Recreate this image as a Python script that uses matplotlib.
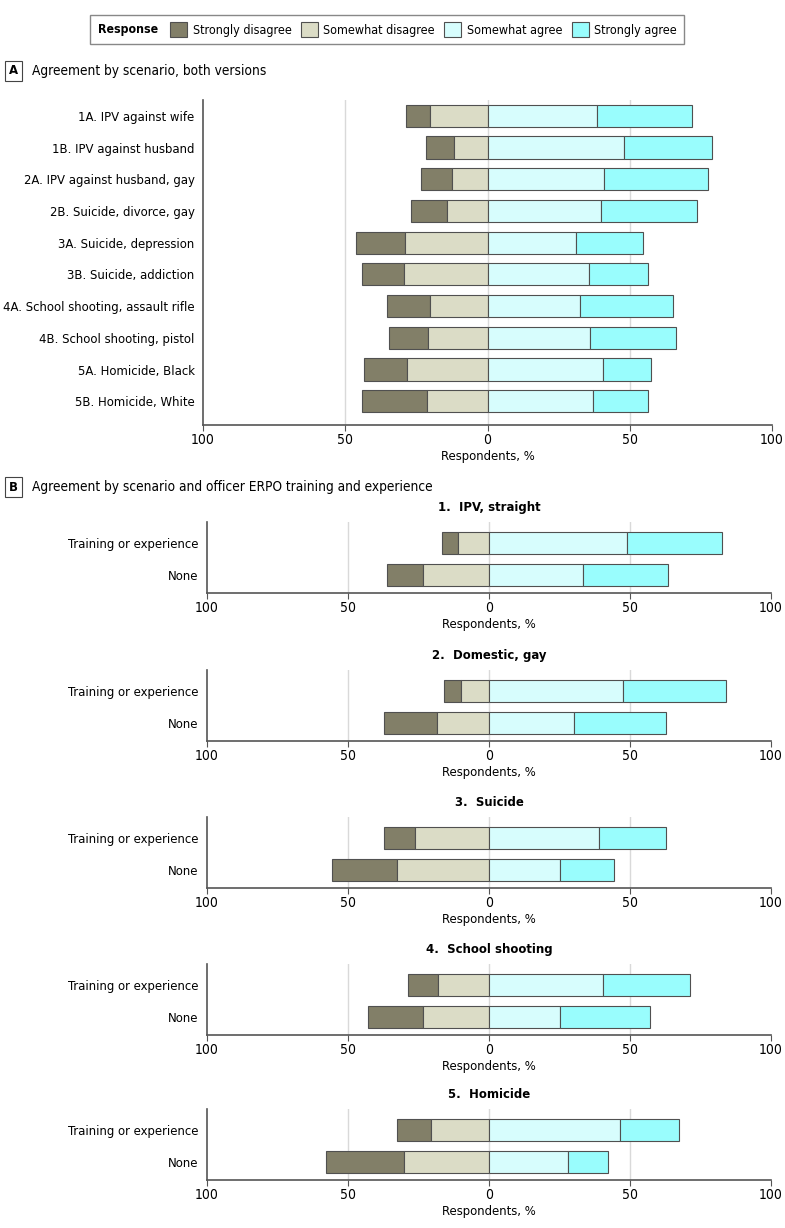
import matplotlib
matplotlib.use("Agg")
import matplotlib.pyplot as plt
from matplotlib import font_manager
from matplotlib.patches import Patch, Rectangle
from matplotlib.ticker import FuncFormatter

# pick a narrow font if one is installed
narrow = None
for f in font_manager.fontManager.ttflist:
    fn = f.fname.lower()
    if ('condensed' in fn or 'narrow' in fn) and 'bold' not in fn and 'italic' not in fn \
            and 'oblique' not in fn and 'mono' not in fn:
        narrow = f
        break
if narrow is not None:
    plt.rcParams['font.family'] = [narrow.name, 'DejaVu Sans']
    plt.rcParams['font.stretch'] = narrow.stretch
    FS = 9.4
else:
    plt.rcParams['font.family'] = ['Roboto', 'DejaVu Sans']
    FS = 9.0
plt.rcParams['font.size'] = FS

responses = ['Strongly disagree', 'Somewhat disagree', 'Somewhat agree', 'Strongly agree']
colors = ['#827f68', '#dbdcc6', '#d7fdfd', '#99fdfd']
edge = '#505050'

# panel A
scenarios = ['1A. IPV against wife', '1B. IPV against husband',
             '2A. IPV against husband, gay', '2B. Suicide, divorce, gay',
             '3A. Suicide, depression', '3B. Suicide, addiction',
             '4A. School shooting, assault rifle', '4B. School shooting, pistol',
             '5A. Homicide, Black', '5B. Homicide, White']
a_strong_dis = [8.4, 9.7, 10.7, 12.4, 17.1, 15.0, 15.0, 13.7, 15.0, 22.9]
a_some_dis = [20.3, 11.8, 12.5, 14.4, 29.0, 29.2, 20.2, 20.8, 28.3, 21.3]
a_some_agr = [38.4, 48.0, 41.1, 39.9, 31.2, 35.7, 32.4, 35.9, 40.5, 37.1]
a_strong_agr = [33.4, 31.0, 36.4, 33.8, 23.4, 20.6, 32.9, 30.3, 16.9, 19.2]

# panel B
b_titles = ['1.  IPV, straight', '2.  Domestic, gay', '3.  Suicide',
            '4.  School shooting', '5.  Homicide']
groups = ['Training or experience', 'None']
b_strong_dis = [[5.8, 12.8], [6.1, 18.6], [11.0, 22.8], [10.6, 19.6], [12.2, 27.7]]
b_some_dis = [[11.0, 23.3], [9.9, 18.6], [26.3, 32.8], [18.0, 23.3], [20.5, 30.1]]
b_some_agr = [[49.1, 33.4], [47.5, 30.1], [39.1, 25.1], [40.3, 25.2], [46.4, 28.1]]
b_strong_agr = [[33.7, 30.2], [36.5, 32.7], [23.6, 19.3], [31.1, 31.9], [21.0, 14.1]]


def diverging(ax, labels, sd, swd, sa, sta, height):
    y = list(range(len(labels)))
    ax.barh(y, sd, left=[-(a + b) for a, b in zip(sd, swd)], height=height,
            color=colors[0], edgecolor=edge, linewidth=0.8, zorder=3)
    ax.barh(y, swd, left=[-b for b in swd], height=height,
            color=colors[1], edgecolor=edge, linewidth=0.8, zorder=3)
    ax.barh(y, sa, left=0, height=height,
            color=colors[2], edgecolor=edge, linewidth=0.8, zorder=3)
    ax.barh(y, sta, left=sa, height=height,
            color=colors[3], edgecolor=edge, linewidth=0.8, zorder=3)
    ax.set_yticks(y)
    ax.set_yticklabels(labels)
    ax.set_xlim(-100, 100)
    ax.set_xticks([-100, -50, 0, 50, 100])
    ax.xaxis.set_major_formatter(FuncFormatter(lambda v, p: '%d' % abs(v)))
    for g in (-50, 0, 50):
        ax.axvline(g, color='#d9d9d9', lw=1, zorder=1)
    for s in ('top', 'right'):
        ax.spines[s].set_visible(False)
    for s in ('left', 'bottom'):
        ax.spines[s].set_color('#555555')
        ax.spines[s].set_linewidth(1.2)
    ax.tick_params(axis='y', length=0, pad=6, labelsize=FS)
    ax.tick_params(axis='x', length=4, color='#555555', labelsize=FS + 0.6, pad=2)
    ax.set_xlabel('Respondents, %', fontsize=FS, labelpad=2)


W, H = 785, 1228
fig = plt.figure(figsize=(W / 100, H / 100), dpi=100)


def box(px_left, px_top, px_right, px_bottom):
    return [px_left / W, 1 - px_bottom / H, (px_right - px_left) / W,
            (px_bottom - px_top) / H]


# legend
resp = fig.text(98 / W, 1 - 29.5 / H, 'Response', fontweight='bold',
                va='center', ha='left', fontsize=FS - 0.6)
handles = [Patch(facecolor=c, edgecolor=edge, linewidth=0.8) for c in colors]
fig.canvas.draw()
rb = resp.get_window_extent().transformed(fig.transFigure.inverted())
leg = fig.legend(handles, responses, ncol=4, frameon=False, loc='center left',
                 bbox_to_anchor=(rb.x1 + 12 / W, 1 - 29.5 / H), handlelength=1.35,
                 handleheight=1.4, handletextpad=0.45, columnspacing=0.75,
                 fontsize=FS - 0.4, borderaxespad=0, borderpad=0)
fig.canvas.draw()
lb = leg.get_window_extent().transformed(fig.transFigure.inverted())
fig.patches.append(Rectangle((90 / W, 1 - 44 / H), lb.x1 + 7 / W - 90 / W, 29 / H,
                             transform=fig.transFigure, fill=False,
                             edgecolor='#888888', lw=1))

# panel A
fig.text(13.5 / W, 1 - 71 / H, 'A', fontweight='bold', ha='center', va='center',
         fontsize=FS,
         bbox=dict(boxstyle='square,pad=0.3', fc='white', ec='#444444', lw=0.8))
fig.text(32 / W, 1 - 71 / H, 'Agreement by scenario, both versions',
         ha='left', va='center', fontsize=FS + 0.4)
axA = fig.add_axes(box(203, 100, 772, 425))
diverging(axA, scenarios, a_strong_dis, a_some_dis, a_some_agr, a_strong_agr, 0.7)
axA.set_ylim(9.75, -0.5)

# panel B
fig.text(13.5 / W, 1 - 487 / H, 'B', fontweight='bold', ha='center', va='center',
         fontsize=FS,
         bbox=dict(boxstyle='square,pad=0.3', fc='white', ec='#444444', lw=0.8))
fig.text(32 / W, 1 - 487 / H,
         'Agreement by scenario and officer ERPO training and experience',
         ha='left', va='center', fontsize=FS + 0.4)
bottoms = [593, 741, 888, 1035, 1180]
for i, title in enumerate(b_titles):
    ax = fig.add_axes(box(207, bottoms[i] - 71, 771, bottoms[i]))
    diverging(ax, groups, b_strong_dis[i], b_some_dis[i], b_some_agr[i],
              b_strong_agr[i], 0.68)
    ax.set_ylim(1.55, -0.65)
    ax.set_title(title, fontweight='bold', fontsize=FS, pad=8)

fig.savefig('out.png', dpi=100)
